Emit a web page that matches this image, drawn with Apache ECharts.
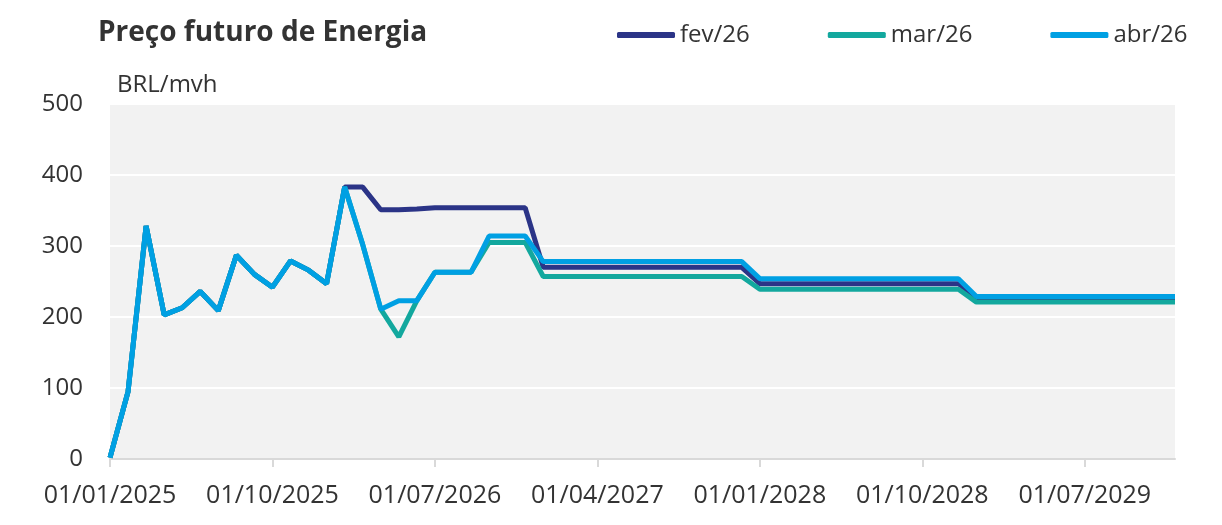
<!DOCTYPE html>
<html>
<head>
<meta charset="utf-8">
<title>Preço futuro de Energia</title>
<script src="https://cdn.jsdelivr.net/npm/echarts@6/dist/echarts.min.js"></script>
<style>
  html, body { margin: 0; padding: 0; background: #ffffff; }
  #mainChart { width: 1222px; height: 525px; }
</style>
</head>
<body>
<div id="mainChart"></div>
<script>
// datas mensais, jan/2025 a dez/2029
const categories = [
  '01/01/2025', '01/02/2025', '01/03/2025', '01/04/2025', '01/05/2025', '01/06/2025',
  '01/07/2025', '01/08/2025', '01/09/2025', '01/10/2025', '01/11/2025', '01/12/2025',
  '01/01/2026', '01/02/2026', '01/03/2026', '01/04/2026', '01/05/2026', '01/06/2026',
  '01/07/2026', '01/08/2026', '01/09/2026', '01/10/2026', '01/11/2026', '01/12/2026',
  '01/01/2027', '01/02/2027', '01/03/2027', '01/04/2027', '01/05/2027', '01/06/2027',
  '01/07/2027', '01/08/2027', '01/09/2027', '01/10/2027', '01/11/2027', '01/12/2027',
  '01/01/2028', '01/02/2028', '01/03/2028', '01/04/2028', '01/05/2028', '01/06/2028',
  '01/07/2028', '01/08/2028', '01/09/2028', '01/10/2028', '01/11/2028', '01/12/2028',
  '01/01/2029', '01/02/2029', '01/03/2029', '01/04/2029', '01/05/2029', '01/06/2029',
  '01/07/2029', '01/08/2029', '01/09/2029', '01/10/2029', '01/11/2029', '01/12/2029',
]

const fev26 = [
  2, 95, 328, 203, 213, 236, 209, 287, 260, 242, 279, 266,
  247, 383, 383, 351, 351, 352, 354, 354, 354, 354, 354, 354,
  270, 270, 270, 270, 270, 270, 270, 270, 270, 270, 270, 270,
  247, 247, 247, 247, 247, 247, 247, 247, 247, 247, 247, 247,
  227, 227, 227, 227, 227, 227, 227, 227, 227, 227, 227, 227,
]

const mar26 = [
  2, 95, 328, 203, 213, 236, 209, 287, 260, 242, 279, 266,
  247, 383, 302, 211, 172, 223, 263, 263, 263, 305, 305, 305,
  257, 257, 257, 257, 257, 257, 257, 257, 257, 257, 257, 257,
  239, 239, 239, 239, 239, 239, 239, 239, 239, 239, 239, 239,
  221, 221, 221, 221, 221, 221, 221, 221, 221, 221, 221, 221,
]

const abr26 = [
  2, 95, 328, 203, 213, 236, 209, 287, 260, 242, 279, 266,
  247, 383, 302, 211, 223, 223, 263, 263, 263, 314, 314, 314,
  278, 278, 278, 278, 278, 278, 278, 278, 278, 278, 278, 278,
  254, 254, 254, 254, 254, 254, 254, 254, 254, 254, 254, 254,
  229, 229, 229, 229, 229, 229, 229, 229, 229, 229, 229, 229,
]

const seriesNames = ['fev/26', 'mar/26', 'abr/26']
const seriesColors = ['#2b3487', '#13a89e', '#00a0e3']
const seriesData = [fev26, mar26, abr26]

const textColor = '#333333'
const fontFamily = "'Open Sans', sans-serif"

const myChart = echarts.init(document.getElementById('mainChart'))

myChart.setOption({
  animation: false,
  textStyle: { fontFamily: fontFamily, color: textColor },
  title: {
    text: 'Preço futuro de Energia',
    left: 98,
    top: 19,
    padding: 0,
    textStyle: {
      fontFamily: fontFamily,
      fontSize: 28,
      fontWeight: 'bold',
      color: textColor,
    },
  },
  legend: {
    data: seriesNames,
    left: 617,
    top: 23,
    padding: 0,
    itemGap: 78,
    itemWidth: 58,
    itemHeight: 6,
    itemTextGap: 4,
    icon: 'roundRect',
    textStyle: { fontFamily: fontFamily, fontSize: 24, color: textColor },
  },
  grid: {
    left: 110,
    right: 47,
    top: 104,
    bottom: 66,
    show: true,
    backgroundColor: '#f2f2f2',
    borderWidth: 0,
    containLabel: false,
  },
  xAxis: {
    type: 'category',
    data: categories,
    boundaryGap: false,
    axisLine: { lineStyle: { color: '#d9d9d9', width: 2 } },
    axisTick: { interval: 8, length: 8, lineStyle: { color: '#d9d9d9', width: 2 } },
    axisLabel: {
      interval: 8,
      margin: 24,
      fontSize: 25,
      color: textColor,
      fontFamily: fontFamily,
    },
    splitLine: { show: false },
  },
  yAxis: {
    type: 'value',
    min: 0,
    max: 500,
    interval: 100,
    name: 'BRL/mvh',
    nameLocation: 'end',
    nameGap: 7,
    nameTextStyle: {
      align: 'left',
      padding: [0, 0, 0, 7],
      fontSize: 24,
      color: textColor,
      fontFamily: fontFamily,
    },
    axisLine: { show: false },
    axisTick: { show: false },
    axisLabel: { margin: 27, fontSize: 24, color: textColor, fontFamily: fontFamily },
    splitLine: { lineStyle: { color: '#ffffff', width: 2 } },
  },
  series: seriesNames.map((name, i) => ({
    name: name,
    type: 'line',
    data: seriesData[i],
    symbol: 'none',
    color: seriesColors[i],
    lineStyle: { width: 5, color: seriesColors[i] },
    z: 2 + i,
  })),
})
</script>
</body>
</html>
